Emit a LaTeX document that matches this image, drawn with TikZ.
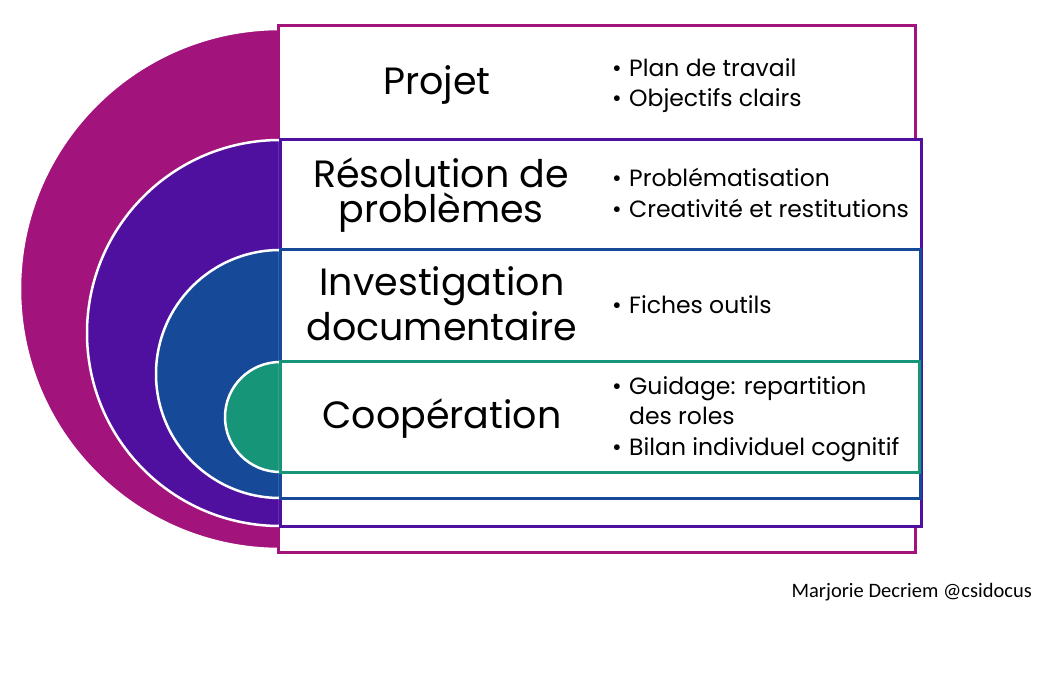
\documentclass[tikz,border=0pt]{standalone}
\usepackage{fontspec}
\setmainfont{Poppins}
\newfontfamily\creditfont{Carlito}
\usepackage{xcolor}
\usepackage{tikz}
\usetikzlibrary{positioning}

\definecolor{magentaA}{RGB}{163,19,124}
\definecolor{violetA}{RGB}{79,16,160}
\definecolor{bleuA}{RGB}{22,74,152}
\definecolor{vertA}{RGB}{23,149,121}
\newcommand{\puce}{\makebox[17pt][l]{•}}
\tikzset{
    demi/.style={draw=white, line width=2.5pt},
    cadre/.style={fill=white, line width=3pt},
    titre/.style={anchor=base, align=center, inner sep=0pt, font=\fontsize{38}{40}\selectfont},
    liste/.style={anchor=base west, align=left, inner sep=0pt, font=\fontsize{23.5}{31}\selectfont},
}

\begin{document}
\begin{tikzpicture}[x=1pt, y=-1pt]
    \useasboundingbox (0,0) rectangle (1054,674);
    % 1. Projet
    \filldraw[demi, fill=magentaA] (280,29) arc[start angle=90, end angle=270, radius=260pt] -- cycle;
    \draw[cadre, draw=magentaA] (278,26) rectangle (915,552);
    
    % 2. Résolution de problèmes
    \filldraw[demi, fill=violetA] (280,140) arc[start angle=90, end angle=270, radius=193pt] -- cycle;
    \draw[cadre, draw=violetA] (280,139) rectangle (921,526);
    
    % 3. Investigation documentaire
    \filldraw[demi, fill=bleuA] (280,250) arc[start angle=90, end angle=270, radius=124pt] -- cycle;
    \draw[cadre, draw=bleuA] (280,249) rectangle (920,498);
    
    % 4. Coopération
    \filldraw[demi, fill=vertA] (280,362) arc[start angle=90, end angle=270, radius=55pt] -- cycle;
    \draw[cadre, draw=vertA] (280,361) rectangle (919,472);
    
    % 5. Titres (base = ligne du bas)
    \node[titre] (projet) at (437,95) {Projet};
    \node[titre, font=\fontsize{38}{35}\selectfont] (resolution) at (441,222) {Résolution de\\problèmes};
    \node[titre, font=\fontsize{38}{45}\selectfont] (investigation) at (442,340) {Investigation\\documentaire};
    \node[titre] (cooperation) at (442,428) {Coopération};
    
    % 6. Listes
    \node[liste] (ptprojet) at (612,107) {\puce Plan de travail\\\puce Objectifs clairs};
    \node[liste] (ptresolution) at (612,217) {\puce Problématisation\\\puce Creativité et restitutions};
    \node[liste] (ptinvestigation) at (612,313) {\puce Fiches outils};
    \node[liste] (ptcooperation) at (612,455) {\puce Guidage: repartition\\[-1pt]\hspace*{17pt}des roles\\\puce Bilan individuel cognitif};
    
    \node[anchor=base east, inner sep=0pt, font=\creditfont\fontsize{20.5}{24}\selectfont] (auteur) at (1032,597) {Marjorie Decriem @csidocus};
\end{tikzpicture}
\end{document}
